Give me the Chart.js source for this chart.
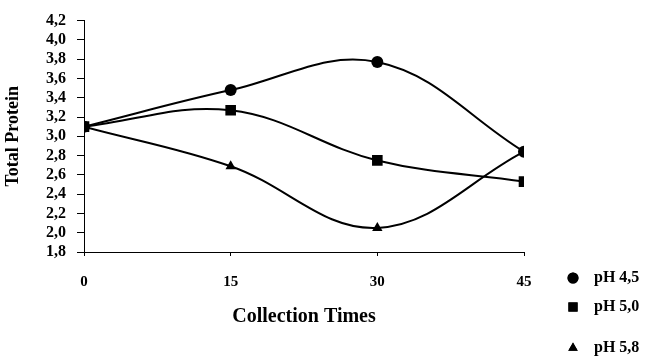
<!DOCTYPE html>
<html>
<head>
<meta charset="utf-8">
<script src="https://cdn.jsdelivr.net/npm/chart.js@4.4.1/dist/chart.umd.min.js"></script>
<style>
  html, body { margin: 0; padding: 0; background: #fff; }
  #wrap { width: 650px; height: 358px; position: relative; }
</style>
</head>
<body>
<div id="wrap"><canvas id="proteinChart"></canvas></div>
<script>
// collection times (x) and total protein per pH
const collectionTimes = [0, 15, 30, 45];
const seriesNames = ['pH 4,5', 'pH 5,0', 'pH 5,8'];
const ph45 = [3.10, 3.48, 3.77, 2.84];
const ph50 = [3.10, 3.27, 2.75, 2.53];
const ph58 = [3.10, 2.69, 2.05, 2.84];
const yTicks = [1.8, 2.0, 2.2, 2.4, 2.6, 2.8, 3.0, 3.2, 3.4, 3.6, 3.8, 4.0, 4.2];
const pointStyles = ['circle', 'rect', 'triangle'];
const pointSizes = [6, 7.5, 6];

const serif = '"Liberation Serif", "DejaVu Serif", serif';

function toPoints(values) {
    return collectionTimes.map((t, i) => ({ x: t, y: values[i] }));
}

const allSeries = [ph45, ph50, ph58];

const datasets = allSeries.map((vals, i) => ({
    label: seriesNames[i],
    data: toPoints(vals),
    borderColor: '#000',
    backgroundColor: '#000',
    borderWidth: 2,
    tension: 0.38,
    pointStyle: pointStyles[i],
    pointRadius: pointSizes[i],
    pointBackgroundColor: '#000',
    pointBorderColor: '#000',
    pointBorderWidth: 0
}));

// legend in the lower right corner, under the plot
const legendRows = [278, 307, 348];
const cornerLegend = {
    id: 'cornerLegend',
    afterDraw(chart) {
        const ctx = chart.ctx;
        ctx.save();
        ctx.font = 'bold 16px ' + serif;
        ctx.textBaseline = 'middle';
        ctx.textAlign = 'left';
        ctx.fillStyle = '#000';
        datasets.forEach((ds, i) => {
            const y = legendRows[i];
            Chart.helpers.drawPoint(ctx, {
                pointStyle: ds.pointStyle,
                radius: i === 1 ? 6.5 : 5.5,
                rotation: 0,
                borderWidth: 0
            }, 573, y);
            ctx.fill();
            ctx.fillText(ds.label, 594, y);
        });
        ctx.restore();
    }
};

const proteinChart = new Chart(document.getElementById('proteinChart'), {
    type: 'line',
    data: { datasets: datasets },
    options: {
        responsive: true,
        maintainAspectRatio: false,
        animation: false,
        layout: { padding: { top: 11, right: 126, left: 0, bottom: 0 } },
        plugins: {
            legend: { display: false },
            tooltip: { enabled: false }
        },
        scales: {
            x: {
                type: 'linear',
                min: 0,
                max: 45,
                afterBuildTicks: (scale) => {
                    scale.ticks = collectionTimes.map(v => ({ value: v }));
                },
                afterFit: (scale) => { scale.height = 106; },
                grid: { drawOnChartArea: false, color: '#000', tickLength: 4 },
                border: { color: '#000', width: 1 },
                ticks: {
                    color: '#000',
                    padding: 17,
                    maxRotation: 0,
                    autoSkip: false,
                    font: { family: serif, size: 15, weight: 'bold' }
                },
                title: {
                    display: true,
                    text: 'Collection Times',
                    color: '#000',
                    font: { family: serif, size: 20, weight: 'bold' },
                    padding: { top: 0, bottom: 29 }
                }
            },
            y: {
                min: 1.8,
                max: 4.2,
                afterBuildTicks: (scale) => {
                    scale.ticks = yTicks.map(v => ({ value: v }));
                },
                afterFit: (scale) => { scale.width = 84; },
                grid: { drawOnChartArea: false, color: '#000', tickLength: 7 },
                border: { color: '#000', width: 1 },
                ticks: {
                    color: '#000',
                    padding: 11,
                    autoSkip: false,
                    font: { family: serif, size: 16, weight: 'bold' },
                    callback: (v) => v.toFixed(1).replace('.', ',')
                },
                title: {
                    display: true,
                    text: 'Total Protein',
                    color: '#000',
                    font: { family: serif, size: 18, weight: 'bold' },
                    padding: { top: 3, bottom: 0 }
                }
            }
        }
    },
    plugins: [cornerLegend]
});
</script>
</body>
</html>
